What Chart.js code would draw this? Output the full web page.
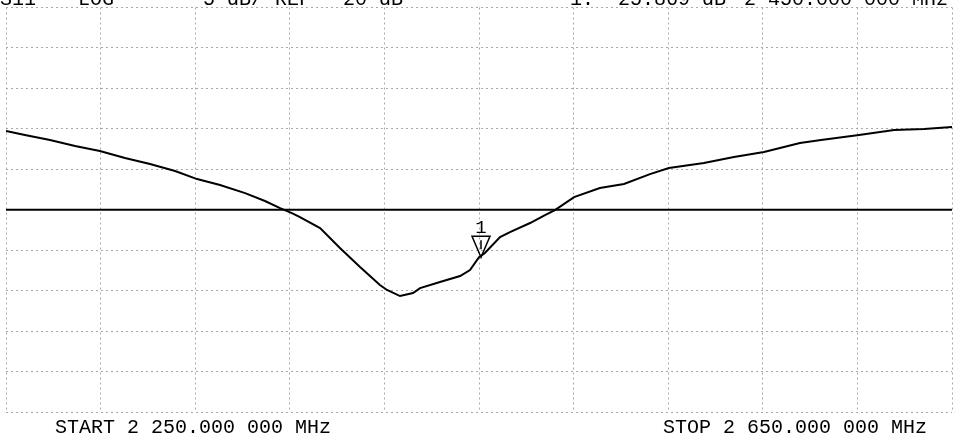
<!DOCTYPE html>
<html>
<head>
<meta charset="utf-8">
<title>S11 LOG</title>
<script src="https://cdn.jsdelivr.net/npm/chart.js@4.4.1/dist/chart.umd.min.js"></script>
<style>
    html, body { margin: 0; padding: 0; background: #fff; }
    #wrap { width: 954px; height: 438px; position: relative; }
</style>
</head>
<body>
<div id="wrap"><canvas id="s11Chart"></canvas></div>
<script>
// ============================================
// DATA
// ============================================
const freqMHz = [
    2250, 2258.0, 2268.6, 2279.2, 2289.7, 2300.3, 2310.9, 2321.5, 2330.8, 2340.5,
    2351.1, 2359.5, 2365.9, 2370.9, 2374.3, 2382.8, 2391.2, 2399.7, 2408.1, 2411.1,
    2416.6, 2422.1, 2425.1, 2433.5, 2442.0, 2446.2, 2450.0, 2452.5, 2458.9, 2463.1,
    2471.6, 2477.9, 2482.1, 2490.2, 2501.1, 2511.3, 2522.3, 2530.3, 2545.1, 2557.8,
    2570.5, 2585.7, 2594.6, 2610.7, 2625.5, 2638.2, 2650
];
const s11dB = [
    -10.27, -10.77, -11.39, -12.13, -12.74, -13.61, -14.35, -15.21, -16.21, -16.95,
    -17.94, -18.92, -19.79, -20.41, -20.90, -22.26, -24.73, -27.08, -29.30, -29.92,
    -30.67, -30.30, -29.68, -28.94, -28.19, -27.45, -25.87, -25.35, -23.37, -22.76,
    -21.64, -20.66, -20.04, -18.43, -17.32, -16.82, -15.59, -14.85, -14.23, -13.49,
    -12.87, -11.76, -11.39, -10.77, -10.15, -10.02, -9.78
];

const startMHz = 2250;
const stopMHz = 2650;
const refLevel = -20;
const scaleDiv = 5;       // dB per division
const yMin = -45;
const yMax = 5;

const marker = { label: '1', freq: 2450, value: -25.869 };

// header strings and their x positions, footer strings
const headerTexts = ['S11', 'LOG', '5 dB/ REF', '-20 dB', '1: -25.869 dB', '2 450.000 000 MHz'];
const headerX = [0, 78, 203, 331, 570, 744];
const footerTexts = ['START 2 250.000 000 MHz', 'STOP 2 650.000 000 MHz'];
const footerX = [55, 663];

// ============================================
// PLUGINS
// ============================================
const annotations = {
    id: 'vnaText',
    afterDraw(chart) {
        const ctx = chart.ctx;
        ctx.save();
        ctx.fillStyle = '#000';
        ctx.font = '20px "Liberation Mono", "DejaVu Sans Mono", monospace';
        ctx.textBaseline = 'alphabetic';
        ctx.textAlign = 'left';
        headerTexts.forEach((t, i) => ctx.fillText(t, headerX[i], 5));
        footerTexts.forEach((t, i) => ctx.fillText(t, footerX[i], 433));

        // marker triangle + label
        const mx = chart.scales.x.getPixelForValue(marker.freq) + 2;
        const my = chart.scales.y.getPixelForValue(marker.value);
        ctx.strokeStyle = '#000';
        ctx.lineWidth = 1.5;
        ctx.beginPath();
        ctx.moveTo(mx, my);
        ctx.lineTo(mx - 9, my - 21);
        ctx.lineTo(mx + 9, my - 21);
        ctx.closePath();
        ctx.stroke();
        ctx.beginPath();
        ctx.moveTo(mx, my - 17);
        ctx.lineTo(mx, my - 8);
        ctx.stroke();
        ctx.font = '19px "Liberation Mono", monospace';
        ctx.textAlign = 'center';
        ctx.fillText(marker.label, mx, my - 24);
        ctx.restore();
    }
};

// ============================================
// CHART
// ============================================
const ctx = document.getElementById('s11Chart').getContext('2d');
const s11Chart = new Chart(ctx, {
    type: 'line',
    data: {
        datasets: [
            {
                label: 'S11',
                data: freqMHz.map((f, i) => ({ x: f, y: s11dB[i] })),
                borderColor: '#000',
                borderWidth: 2,
                pointRadius: 0,
                tension: 0,
                fill: false
            },
            {
                label: 'REF',
                data: [{ x: startMHz, y: refLevel }, { x: stopMHz, y: refLevel }],
                borderColor: '#000',
                borderWidth: 2,
                pointRadius: 0,
                fill: false
            }
        ]
    },
    options: {
        responsive: true,
        maintainAspectRatio: false,
        animation: false,
        layout: { padding: { left: 6, right: 2, top: 7.5, bottom: 26 } },
        plugins: {
            legend: { display: false },
            tooltip: { enabled: false }
        },
        scales: {
            x: {
                type: 'linear',
                min: startMHz,
                max: stopMHz,
                ticks: { display: false, stepSize: (stopMHz - startMHz) / 10 },
                grid: { color: '#a8a8a8', lineWidth: 1, drawTicks: false },
                border: { display: false, dash: [2, 3] }
            },
            y: {
                min: yMin,
                max: yMax,
                ticks: { display: false, stepSize: scaleDiv },
                grid: { color: '#a8a8a8', lineWidth: 1, drawTicks: false },
                border: { display: false, dash: [2, 3] }
            }
        }
    },
    plugins: [annotations]
});
</script>
</body>
</html>
